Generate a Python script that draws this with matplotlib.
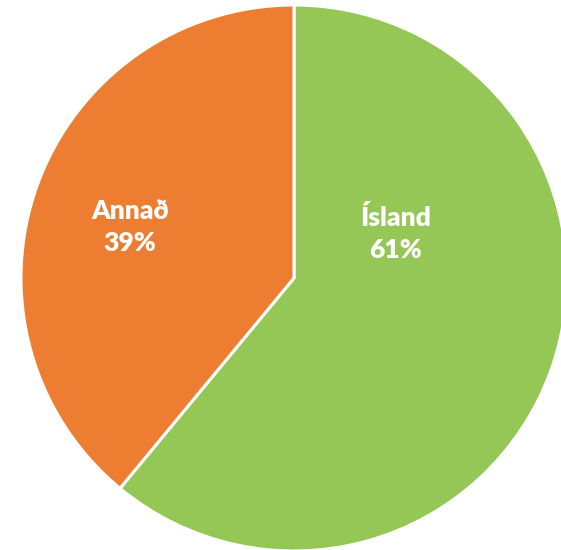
import matplotlib.pyplot as plt

# data
labels = ["Ísland", "Annað"]
shares = [61, 39]
colors = ["#94C755", "#ED7D31"]

# label text positions (pixels from top-left)
label_pos = [(396, 234), (130, 227)]

W, H = 561, 550
CX, CY, R = 294, 278, 273

fig = plt.figure(figsize=(W / 100, H / 100), dpi=100)
ax = fig.add_axes([0, 0, 1, 1])
ax.pie(
    shares,
    colors=colors,
    startangle=90,
    counterclock=False,
    center=(CX, H - CY),
    radius=R,
    wedgeprops={"edgecolor": "white", "linewidth": 2.2},
)
ax.set_xlim(0, W)
ax.set_ylim(0, H)
ax.set_aspect("equal")
ax.axis("off")

for name, val, (x, y) in zip(labels, shares, label_pos):
    ax.text(
        x, H - y, f"{name}\n{val}%",
        ha="center", va="center", color="white",
        fontsize=19, fontweight="heavy", family=["Lato", "DejaVu Sans"],
        linespacing=1.4,
    )

fig.savefig("out.png", dpi=100, facecolor="white")
